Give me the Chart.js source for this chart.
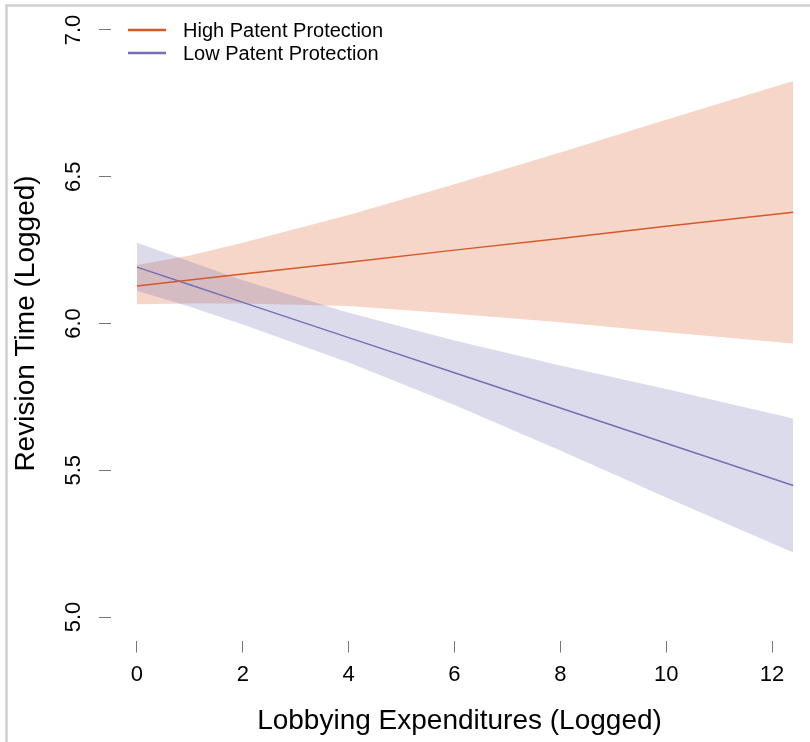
<!DOCTYPE html>
<html>
<head>
<meta charset="utf-8">
<script src="https://cdn.jsdelivr.net/npm/chart.js@4.4.1/dist/chart.umd.min.js"></script>
<style>
  html, body { margin: 0; padding: 0; background: #fff; overflow: hidden; }
</style>
</head>
<body>
<canvas id="chart" width="810" height="742"></canvas>
<script>
// values
const lobbying = [0, 1, 2, 4, 6, 8, 10, 12.4];
const highFit = [6.128, 6.148, 6.169, 6.209, 6.250, 6.290, 6.331, 6.379];
const highUpper = [6.199, 6.232, 6.275, 6.370, 6.474, 6.583, 6.694, 6.826];
const highLower = [6.066, 6.068, 6.068, 6.060, 6.033, 6.004, 5.970, 5.932];
const lowFit = [6.192, 6.132, 6.072, 5.952, 5.832, 5.712, 5.592, 5.448];
const lowUpper = [6.275, 6.211, 6.147, 6.037, 5.942, 5.857, 5.777, 5.676];
const lowLower = [6.112, 6.057, 5.997, 5.867, 5.722, 5.567, 5.407, 5.220];

const xTicks = [0, 2, 4, 6, 8, 10, 12];
const yTicks = [5.0, 5.5, 6.0, 6.5, 7.0];
const yTickLabels = ['5.0', '5.5', '6.0', '6.5', '7.0'];

const seriesNames = ['High Patent Protection', 'Low Patent Protection'];
const ORANGE = '#D5582A';
const PURPLE = '#7570B3';
const FONT = '"Liberation Sans", Arial, sans-serif';

const pts = (ys) => lobbying.map((x, i) => ({ x: x, y: ys[i] }));

const bandStyle = { borderWidth: 0, pointRadius: 0, tension: 0 };

// y tick labels are rotated like base R graphics, plus legend and frame
const extras = {
  id: 'extras',
  afterDraw(chart) {
    const ctx = chart.ctx;
    const ys = chart.scales.y;
    ctx.save();
    ctx.fillStyle = '#000';
    ctx.font = '22px ' + FONT;
    ctx.textAlign = 'center';
    ctx.textBaseline = 'middle';
    yTicks.forEach((v, i) => {
      ctx.save();
      ctx.translate(73.5, ys.getPixelForValue(v));
      ctx.rotate(-Math.PI / 2);
      ctx.fillText(yTickLabels[i], 0, 0);
      ctx.restore();
    });

    // legend
    const colors = [ORANGE, PURPLE];
    ctx.font = '20px ' + FONT;
    ctx.textAlign = 'left';
    seriesNames.forEach((name, i) => {
      const y = 30 + i * 23;
      ctx.strokeStyle = colors[i];
      ctx.lineWidth = 2.5;
      ctx.beginPath();
      ctx.moveTo(128, y);
      ctx.lineTo(166, y);
      ctx.stroke();
      ctx.fillStyle = '#000';
      ctx.fillText(name, 183, y + 1);
    });

    // light frame on left and top
    ctx.strokeStyle = '#cfcfcf';
    ctx.lineWidth = 2.5;
    ctx.beginPath();
    ctx.moveTo(6.5, 742);
    ctx.lineTo(6.5, 5.5);
    ctx.lineTo(810, 5.5);
    ctx.stroke();
    ctx.restore();
  }
};

new Chart(document.getElementById('chart'), {
  type: 'line',
  data: {
    datasets: [
      { data: pts(highLower), ...bandStyle, fill: false, order: 3 },
      { data: pts(highUpper), ...bandStyle, fill: '-1', backgroundColor: 'rgba(218,90,40,0.25)', order: 3 },
      { data: pts(lowLower), ...bandStyle, fill: false, order: 2 },
      { data: pts(lowUpper), ...bandStyle, fill: '-1', backgroundColor: 'rgba(117,110,179,0.25)', order: 2 },
      { label: seriesNames[0], data: pts(highFit), borderColor: ORANGE, borderWidth: 1.5, pointRadius: 0, fill: false, order: 1 },
      { label: seriesNames[1], data: pts(lowFit), borderColor: PURPLE, borderWidth: 1.5, pointRadius: 0, fill: false, order: 1 }
    ]
  },
  options: {
    responsive: false,
    animation: false,
    devicePixelRatio: 1,
    layout: { padding: { left: 0, right: 2, top: 6.5, bottom: 0 } },
    plugins: {
      legend: { display: false },
      tooltip: { enabled: false }
    },
    scales: {
      x: {
        type: 'linear',
        min: -0.49,
        max: 12.68,
        afterBuildTicks: (s) => { s.ticks = xTicks.map(v => ({ value: v })); },
        afterFit: (s) => { s.height = 101.5; },
        border: { display: false },
        grid: { drawOnChartArea: false, drawTicks: true, tickLength: 12, color: '#777' },
        ticks: { color: '#000', font: { family: FONT, size: 22 }, padding: 9, maxRotation: 0 },
        title: { display: true, text: 'Lobbying Expenditures (Logged)', color: '#000',
                 font: { family: FONT, size: 28 }, padding: { top: 0, bottom: 4 } }
      },
      y: {
        type: 'linear',
        min: 4.92,
        max: 7.08,
        afterBuildTicks: (s) => { s.ticks = yTicks.map(v => ({ value: v })); },
        afterFit: (s) => { s.width = 111; },
        border: { display: false },
        grid: { drawOnChartArea: false, drawTicks: true, tickLength: 12, color: '#777' },
        ticks: { display: false },
        title: { display: true, text: 'Revision Time (Logged)', color: '#000',
                 font: { family: FONT, size: 28 }, padding: { top: 9, bottom: 0 } }
      }
    }
  },
  plugins: [extras]
});
</script>
</body>
</html>
